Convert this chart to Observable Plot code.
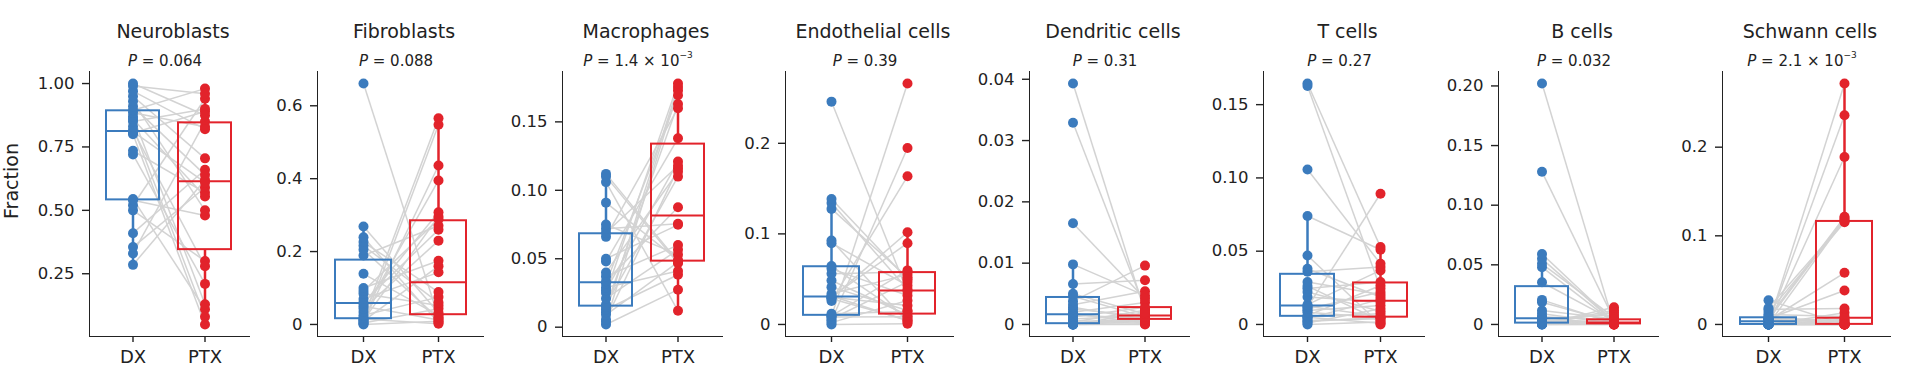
<!DOCTYPE html>
<html><head><meta charset="utf-8">
<script src="https://cdn.jsdelivr.net/npm/d3@7"></script>
<script src="https://cdn.jsdelivr.net/npm/@observablehq/plot@0.6"></script>
<style>
html,body{margin:0;padding:0;background:#fff;}
#fig{position:relative;width:1920px;height:366px;overflow:hidden;font-family:"DejaVu Sans",sans-serif;color:#222;}
.panel{position:absolute;top:0;}
.panel svg{max-width:none;}
.title{position:absolute;top:22px;white-space:nowrap;font-size:19px;line-height:19px;transform:translateX(-50%);}
.pval{position:absolute;top:54px;white-space:nowrap;font-size:15px;line-height:15px;transform:translateX(-50%);}
.pval sup{font-size:9px;line-height:0;position:relative;top:-2px;vertical-align:super;}
.ylab{position:absolute;left:11px;top:181px;font-size:19px;line-height:19px;white-space:nowrap;transform:translate(-50%,-50%) rotate(-90deg);}
[aria-label^="x-axis"] text{font-size:18px;}
[aria-label^="x-axis"] path,[aria-label^="y-axis"] path,[aria-label^="x-axis"] line,[aria-label^="y-axis"] line{stroke-width:1.4px;}
</style></head>
<body><div id="fig"></div>
<script>
// ---- data ----
const groups = ["DX", "PTX"];
const cellTypes = ["Neuroblasts", "Fibroblasts", "Macrophages", "Endothelial cells", "Dendritic cells", "T cells", "B cells", "Schwann cells"];
const pValueText = ["0.064", "0.088", "1.4 × 10", "0.39", "0.31", "0.27", "0.032", "2.1 × 10"];
const pValueExponent = ["", "", "−3", "", "", "", "", "−3"];

const neuroblastsDX = [0.285, 0.33, 0.355, 0.41, 0.50, 0.52, 0.54, 0.545, 0.72, 0.735, 0.80, 0.805, 0.81, 0.815, 0.83, 0.85, 0.86, 0.87, 0.885, 0.895, 0.91, 0.93, 0.95, 0.97, 0.99, 1.0];
const neuroblastsPTX = [0.62, 0.85, 0.59, 0.66, 0.30, 0.94, 0.48, 0.11, 0.21, 0.57, 0.05, 0.89, 0.61, 0.28, 0.08, 0.90, 0.555, 0.13, 0.83, 0.98, 0.64, 0.50, 0.705, 0.82, 0.96, 0.875];
const fibroblastsDX = [0, 0.002, 0.004, 0.007, 0.01, 0.012, 0.015, 0.018, 0.025, 0.034, 0.043, 0.05, 0.057, 0.061, 0.07, 0.084, 0.092, 0.1, 0.139, 0.189, 0.205, 0.216, 0.226, 0.239, 0.269, 0.661];
const fibroblastsPTX = [0.009, 0.548, 0.043, 0.436, 0.16, 0.296, 0.002, 0.566, 0.075, 0.395, 0.23, 0.012, 0.308, 0.26, 0.143, 0.052, 0.289, 0.175, 0.025, 0.271, 0.016, 0.06, 0.089, 0.005, 0.032, 0.02];
const macrophagesDX = [0.002, 0.004, 0.0056, 0.009, 0.011, 0.0129, 0.015, 0.0165, 0.021, 0.025, 0.027, 0.029, 0.032, 0.0335, 0.037, 0.04, 0.048, 0.05, 0.066, 0.069, 0.072, 0.075, 0.091, 0.106, 0.11, 0.112];
const macrophagesPTX = [0.0274, 0.173, 0.116, 0.0475, 0.1755, 0.0383, 0.163, 0.11, 0.0566, 0.178, 0.121, 0.041, 0.1694, 0.0876, 0.06, 0.1136, 0.138, 0.0748, 0.16, 0.118, 0.0756, 0.053, 0.049, 0.012, 0.0468, 0.048];
const endothelialDX = [0, 0.002, 0.0044, 0.006, 0.0081, 0.009, 0.0095, 0.0118, 0.026, 0.0283, 0.029, 0.03, 0.0305, 0.0315, 0.0338, 0.0412, 0.0485, 0.0559, 0.0614, 0.0645, 0.0897, 0.0926, 0.1276, 0.134, 0.1386, 0.246];
const endothelialPTX = [0.0008, 0.0265, 0.1949, 0.047, 0.0085, 0.266, 0.0597, 0.0142, 0.1636, 0.005, 0.1018, 0.021, 0.0897, 0.004, 0.055, 0.0154, 0.0105, 0.058, 0.032, 0.007, 0.043, 0.0026, 0.052, 0.039, 0.05, 0.036];
const dendriticDX = [0, 0, 0, 0, 0, 0, 0.0001, 0.0002, 0.0004, 0.0006, 0.0009, 0.0012, 0.0015, 0.0018, 0.002, 0.0025, 0.0028, 0.0032, 0.0038, 0.0046, 0.005, 0.0066, 0.0098, 0.0165, 0.0329, 0.0393];
const dendriticPTX = [0.0001, 0.0009, 0.0013, 0, 0.0005, 0.0019, 0.0007, 0.0011, 0.0023, 0.0004, 0.0015, 0.0028, 0.001, 0.0002, 0.0036, 0.0014, 0.0008, 0.0054, 0.0096, 0.0012, 0.0017, 0.0072, 0.0047, 0.0042, 0.0026, 0.002];
const tCellsDX = [0, 0.001, 0.002, 0.0027, 0.004, 0.005, 0.0054, 0.006, 0.0084, 0.0095, 0.0105, 0.0118, 0.0125, 0.0135, 0.0187, 0.0221, 0.0245, 0.0262, 0.0289, 0.036, 0.038, 0.0471, 0.074, 0.1058, 0.1628, 0.1644];
const tCellsPTX = [0.0016, 0.0107, 0.0048, 0.0039, 0.0171, 0.0008, 0.0073, 0.0266, 0.0045, 0.013, 0.0221, 0.0892, 0.0055, 0.0369, 0.0153, 0.009, 0.0289, 0.0025, 0.0205, 0.0392, 0.0187, 0, 0.051, 0.0414, 0.0245, 0.0528];
const bCellsDX = [0, 0, 0, 0.0002, 0.0005, 0.0008, 0.001, 0.0015, 0.002, 0.0025, 0.0033, 0.004, 0.0048, 0.0058, 0.0065, 0.0089, 0.0117, 0.0187, 0.0206, 0.0354, 0.048, 0.0508, 0.055, 0.0591, 0.128, 0.202];
const bCellsPTX = [0, 0.0145, 0.0002, 0.012, 0, 0.0006, 0.01, 0.0012, 0, 0.0027, 0.0004, 0.0016, 0.008, 0, 0.0035, 0.001, 0.0045, 0.0018, 0.0008, 0.003, 0.0014, 0.006, 0.002, 0.0023, 0.004, 0];
const schwannDX = [0, 0, 0, 0, 0, 0, 0, 0, 0, 0, 0.0005, 0.0015, 0.003, 0.0045, 0.005, 0.0056, 0.006, 0.0065, 0.007, 0.0077, 0.0095, 0.0113, 0.014, 0.0169, 0.0185, 0.0274];
const schwannPTX = [0.2718, 0, 0.0003, 0.1184, 0, 0.0015, 0.189, 0, 0.006, 0.0132, 0, 0.236, 0.0008, 0.0583, 0, 0.12, 0.003, 0.0383, 0.0045, 0.1214, 0, 0.009, 0.1154, 0.018, 0.1165, 0];

const yTickValues = [
  [0.25, 0.5, 0.75, 1.0],
  [0, 0.2, 0.4, 0.6],
  [0, 0.05, 0.1, 0.15],
  [0, 0.1, 0.2],
  [0, 0.01, 0.02, 0.03, 0.04],
  [0, 0.05, 0.1, 0.15],
  [0, 0.05, 0.1, 0.15, 0.2],
  [0, 0.1, 0.2]
];
const yTickLabels = [
  ["0.25", "0.50", "0.75", "1.00"],
  ["0", "0.2", "0.4", "0.6"],
  ["0", "0.05", "0.10", "0.15"],
  ["0", "0.1", "0.2"],
  ["0", "0.01", "0.02", "0.03", "0.04"],
  ["0", "0.05", "0.10", "0.15"],
  ["0", "0.05", "0.10", "0.15", "0.20"],
  ["0", "0.1", "0.2"]
];

// ---- layout / style ----
const dxSeries = [neuroblastsDX, fibroblastsDX, macrophagesDX, endothelialDX, dendriticDX, tCellsDX, bCellsDX, schwannDX];
const ptxSeries = [neuroblastsPTX, fibroblastsPTX, macrophagesPTX, endothelialPTX, dendriticPTX, tCellsPTX, bCellsPTX, schwannPTX];
const panelLeft = [89, 317, 562, 785, 1029, 1263, 1498, 1722];
const panelWidth = [160, 166, 160, 168, 160, 161, 160, 168];
const colors = ["#3b7bbd", "#e2232b"];
const ML = 62, MR = 6, MT = 71, MB = 30, H = 366;

function boxStats(values, group) {
  const s = values.slice().sort(d3.ascending);
  const q1 = d3.quantileSorted(s, 0.25), med = d3.quantileSorted(s, 0.5), q3 = d3.quantileSorted(s, 0.75);
  const iqr = q3 - q1;
  const lo = d3.min(s.filter(v => v >= q1 - 1.5 * iqr));
  const hi = d3.max(s.filter(v => v <= q3 + 1.5 * iqr));
  return {group, q1, med, q3, lo, hi};
}

const fig = document.getElementById("fig");
cellTypes.forEach((name, k) => {
  const dx = dxSeries[k], ptx = ptxSeries[k];
  const rows = [...dx.map(v => ({group: "DX", value: v})), ...ptx.map(v => ({group: "PTX", value: v}))];
  const pairs = dx.map((v, i) => ({a: "DX", b: "PTX", dx: v, ptx: ptx[i]}));
  const stats = [boxStats(dx, "DX"), boxStats(ptx, "PTX")];
  const all = dx.concat(ptx);
  const vmin = d3.min(all), vmax = d3.max(all), pad = (vmax - vmin) * 0.05;
  const ticks = yTickValues[k], labels = yTickLabels[k];
  const svg = Plot.plot({
    width: ML + panelWidth[k] + MR, height: H,
    marginLeft: ML, marginRight: MR, marginTop: MT, marginBottom: MB,
    style: {fontFamily: "DejaVu Sans, sans-serif", fontSize: "16.5px", background: "transparent", color: "#222", overflow: "visible"},
    x: {domain: groups, type: "band", paddingInner: 0.26, paddingOuter: 0.23, line: true, tickSize: 6, tickPadding: 8, label: null},
    y: {domain: [vmin - pad, vmax + pad], ticks, tickFormat: d => labels[ticks.indexOf(d)], line: true, tickSize: 7, tickPadding: 8, label: null},
    color: {domain: groups, range: colors},
    marks: [
      Plot.link(pairs, {x1: "a", x2: "b", y1: "dx", y2: "ptx", stroke: "#d3d3d3", strokeWidth: 1.5}),
      Plot.ruleX(stats, {x: "group", y1: "lo", y2: "q1", stroke: "group", strokeWidth: 2.5}),
      Plot.ruleX(stats, {x: "group", y1: "q3", y2: "hi", stroke: "group", strokeWidth: 2.5}),
      Plot.barY(stats, {x: "group", y1: "q1", y2: "q3", fill: "none", stroke: "group", strokeWidth: 2}),
      Plot.tickY(stats, {x: "group", y: "med", stroke: "group", strokeWidth: 2}),
      Plot.dot(rows, {x: "group", y: "value", r: 5, fill: "group", stroke: null})
    ]
  });
  const div = document.createElement("div");
  div.className = "panel";
  div.style.left = (panelLeft[k] - ML) + "px";
  div.appendChild(svg);
  fig.appendChild(div);

  const cx = panelLeft[k] + panelWidth[k] / 2;
  const t = document.createElement("div");
  t.className = "title";
  t.style.left = (cx + 4) + "px";
  t.textContent = name;
  fig.appendChild(t);

  const p = document.createElement("div");
  p.className = "pval";
  p.style.left = (cx - 4) + "px";
  p.innerHTML = "<i>P</i> = " + pValueText[k] + (pValueExponent[k] ? "<sup>" + pValueExponent[k] + "</sup>" : "");
  fig.appendChild(p);
});
const yl = document.createElement("div");
yl.className = "ylab";
yl.textContent = "Fraction";
fig.appendChild(yl);
</script>
</body></html>
